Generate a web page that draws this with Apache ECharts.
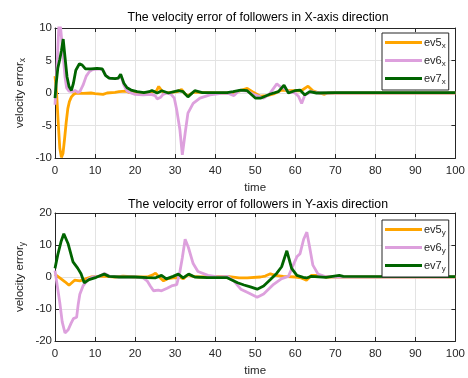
<!DOCTYPE html>
<html>
<head>
<meta charset="utf-8">
<script src="https://cdn.jsdelivr.net/npm/echarts@6/dist/echarts.min.js"></script>
<style>
  html, body { margin: 0; padding: 0; background: #fff; }
  #chart { width: 468px; height: 378px; }
</style>
</head>
<body>
<div id="chart"></div>
<script>
// x-axis ticks
var timeTicks = [0, 10, 20, 30, 40, 50, 60, 70, 80, 90, 100]

// X direction errors, [time, value]
var ev5x = [[0,2.6],[0.4,0],[0.8,-4.5],[1.2,-8.5],[1.6,-9.9],[2.0,-9.3],[2.4,-7],[2.8,-4.5],[3.2,-2.4],[3.6,-1.3],[4.1,-0.6],[4.7,-0.2],[5.3,0],[7,-0.05],[9,0],[10,-0.1],[12,-0.2],[13,0],[15,0.1],[16,0.2],[17.6,0.3],[18.5,0.1],[20,0],[22,0],[24,0.1],[25.3,0.3],[25.9,1.0],[26.5,0.5],[27.1,0],[29,0.1],[30.5,0.2],[31.6,0.55],[32.4,-0.1],[33.2,-0.4],[34.5,0.1],[36,0.1],[40,0],[43,0],[45,0.1],[48,0.7],[49.3,0.2],[51.3,-0.5],[53,-0.4],[54.6,-0.15],[56.6,0.45],[58,0.35],[59.5,0.35],[61.5,0.35],[63.2,1.05],[64.4,0.35],[66,0],[67.3,-0.2],[68.1,0],[70,0],[100,0]]
var ev6x = [[0,-1.8],[0.5,4],[1.0,10.8],[1.4,10],[2,6],[2.5,2.5],[2.9,0.8],[3.5,0.3],[4.5,0.2],[5,0.4],[5.7,0.1],[6.2,0.2],[7,1.2],[7.8,2.6],[8.6,3.3],[9.4,3.6],[11,3.7],[12,3.5],[12.8,2.6],[14,2.2],[16,2.3],[16.5,2.6],[17.2,1.2],[18,0.3],[19,0],[20,-0.2],[22,-0.3],[24,-0.2],[25,-0.4],[25.5,-0.9],[26.3,-0.7],[27,-0.2],[28,0],[29,-0.2],[29.8,-0.8],[30.4,-2.6],[31.2,-5.7],[31.8,-9.5],[32.5,-6.2],[33.2,-3.1],[34.5,-1.6],[36.2,-0.8],[38.7,-0.3],[42,0],[43.5,-0.1],[44.7,-0.4],[46,0.4],[48,0.3],[49.5,-0.2],[51,-0.5],[52.1,-0.8],[53.5,-0.2],[55.4,1.4],[56.2,1.0],[57.5,0.6],[58.3,0.2],[59.9,0],[60.8,-0.5],[61.6,-1.6],[62.4,-0.3],[64,0.2],[66,0],[100,0]]
var ev7x = [[0,-0.8],[0.3,1.5],[0.7,3.8],[1.2,5.2],[1.6,6.5],[2.05,8.3],[2.5,5.5],[3,2.5],[3.5,1],[4.1,0.4],[4.6,1.5],[5.2,3.5],[6.1,4.5],[6.8,4.3],[7.6,3.7],[9,3.7],[10.5,3.8],[11.8,3.7],[12.6,2.7],[13.5,2.3],[15,2.2],[15.8,2.3],[16.4,2.9],[17.2,1.5],[18,0.8],[19,0.45],[20.5,0.2],[22.2,0.05],[23.5,0.2],[24.2,0.4],[25.5,0],[26.7,0.35],[28.3,0],[30.8,0.35],[32,0.2],[33.2,-0.6],[34.9,0.35],[36.8,0.05],[43,0.05],[44.5,0.2],[46.4,0.45],[48,0.35],[50.1,-0.8],[51.3,-0.8],[53.8,-0.15],[55.8,0.2],[57.2,1.2],[58.3,0],[59.9,0.35],[61.2,0.45],[62.4,-0.3],[63.6,0.2],[65.3,0],[70,0.05],[100,0.05]]

// Y direction errors
var ev5y = [[0,0.8],[1.2,-0.3],[2.5,-1.5],[3.5,-2.6],[4.2,-1.8],[4.9,-1.0],[6.2,-1.2],[7.8,-0.5],[9,0],[12,0.3],[15,0],[17,0.3],[20,0],[23,0],[24.3,0.6],[25.1,1.2],[26,0],[27.1,-1.2],[28.3,-0.5],[29.5,-0.3],[30.4,-0.3],[31.2,0],[32,-0.6],[33.2,0.7],[34.5,0.2],[36,0],[43,0.2],[46,-0.3],[48,-0.3],[51.3,0],[52.5,0.3],[53.8,1.0],[55,0.5],[57,0.2],[60,0],[61.5,-0.3],[62.8,-1.0],[64,0.5],[66,0.5],[67.5,0],[100,0]]
var ev6y = [[0,2],[0.6,-3],[1.2,-8],[1.8,-14],[2.5,-17.5],[3.3,-16.5],[4,-14.5],[4.6,-13],[5.4,-12.6],[5.8,-8.5],[6.2,-5.4],[7,-2.8],[8.2,-0.8],[9.4,0],[11,0.2],[12.4,1.1],[13.5,0.3],[16,0],[20,0],[22,-0.3],[23,-1.2],[23.8,-2.8],[24.6,-4.3],[25.8,-4.1],[26.6,-4.3],[28,-3.5],[29.1,-2.8],[30.4,-2.4],[31.2,1.7],[31.8,6],[32.5,11.8],[33.3,9.3],[34.5,4.2],[35.7,1.7],[38.2,0.5],[40.7,0],[43.1,0.2],[44.7,-1.3],[46.4,-3.8],[48,-4.8],[50.5,-6.3],[52.1,-5.3],[54.6,-2.3],[56.6,-0.5],[58.3,0.2],[59.5,3.7],[60.4,6.3],[61.2,7.3],[62.1,11.8],[62.9,14],[63.6,9.3],[64.4,3.7],[65.7,0.9],[67.3,0.2],[70,0],[100,0]]
var ev7y = [[0,2.7],[0.7,7],[1.5,11],[2.2,13.5],[3.3,10.3],[4.5,4.7],[5.7,2.7],[6.5,1],[7.3,-1.8],[8.5,-0.8],[10.3,-0.1],[12.3,0.9],[13.5,0.2],[16,0],[20,0],[23,-0.2],[25,-0.3],[26.6,0.5],[27.8,-0.6],[29.5,0.2],[30.8,0.9],[32,-0.3],[33.4,0.9],[34.9,0],[38,-0.2],[43,-0.2],[45.6,-1.8],[47.2,-2.5],[48.8,-3.1],[50.5,-3.8],[52.1,-2.8],[53.8,-0.8],[55.4,1.2],[56.6,3.2],[57.9,8.2],[59.1,2.7],[60.4,0.5],[62,-0.1],[62.8,-0.3],[64,0.2],[67.7,-0.1],[71,0.5],[72,0.2],[100,0.1]]

var colors = ['#FFA500', '#DDA0DD', '#006400']
var font = 'Liberation Sans, Arial, sans-serif'
var ink = '#262626'

function xAx(gi, top) {
  return {
    type: 'value', gridIndex: gi, min: 0, max: 100, interval: 10,
    position: top ? 'top' : 'bottom',
    name: top ? '' : 'time', nameLocation: 'middle', nameGap: 24,
    nameTextStyle: { fontFamily: font, fontSize: 11.5, color: ink },
    axisLine: { show: true, onZero: false, lineStyle: { color: ink, width: 1 } },
    axisTick: { show: true, inside: true, length: 4, lineStyle: { color: ink } },
    axisLabel: { show: !top, fontFamily: font, fontSize: 11.5, color: ink, margin: 7 },
    splitLine: { show: !top, lineStyle: { color: '#e3e3e3', width: 1 } }
  }
}
function yAx(gi, right, lim, step, sub) {
  return {
    type: 'value', gridIndex: gi, min: -lim, max: lim, interval: step,
    position: right ? 'right' : 'left',
    name: right ? '' : '{a|velocity error}{s|' + sub + '}',
    nameLocation: 'middle', nameGap: 28, nameRotate: 90, nameMoveOverlap: false,
    nameTextStyle: { rich: {
      a: { fontFamily: font, fontSize: 11.5, color: ink },
      s: { fontFamily: font, fontSize: 8.5, color: ink, verticalAlign: 'bottom', padding: [6, 0, 0, 0] }
    } },
    axisLine: { show: true, onZero: false, lineStyle: { color: ink, width: 1 } },
    axisTick: { show: true, inside: true, length: 4, lineStyle: { color: ink } },
    axisLabel: { show: !right, fontFamily: font, fontSize: 11.5, color: ink, margin: 3 },
    splitLine: { show: !right, lineStyle: { color: '#e3e3e3', width: 1 } }
  }
}
function line(name, data, k, gi) {
  return {
    name: name, type: 'line', data: data, xAxisIndex: gi * 2, yAxisIndex: gi * 2,
    symbol: 'none', clip: true, animation: false,
    lineStyle: { color: colors[k], width: 2.8 }, itemStyle: { color: colors[k] }
  }
}
function leg(top, names) {
  return {
    orient: 'vertical', left: 382, top: top,
    data: names, icon: 'rect', itemWidth: 37, itemHeight: 3, itemGap: 5,
    padding: [4, 3, 4, 3],
    backgroundColor: '#fff', borderColor: ink, borderWidth: 1, borderRadius: 0,
    formatter: function (n) { var p = n.split('_'); return '{a|' + p[0] + '}{s|' + p[1] + '}' },
    textStyle: { padding: [0, 0, 0, -3], rich: {
      a: { fontFamily: font, fontSize: 11, color: ink },
      s: { fontFamily: font, fontSize: 8, color: ink, verticalAlign: 'bottom', padding: [7, 0, 0, 0] }
    } }
  }
}

var chart = echarts.init(document.getElementById('chart'))
var option = {
  animation: false,
  title: [
    { text: 'The velocity error of followers in X-axis direction', left: 258, top: 12, padding: 0, textAlign: 'center',
      textStyle: { fontFamily: font, fontSize: 12.3, fontWeight: 'normal', color: '#000' } },
    { text: 'The velocity error of followers in Y-axis direction', left: 258, top: 199, padding: 0, textAlign: 'center',
      textStyle: { fontFamily: font, fontSize: 12.3, fontWeight: 'normal', color: '#000' } }
  ],
  grid: [
    { left: 55, top: 28, width: 406, height: 130 },
    { left: 55, top: 213, width: 406, height: 132 }
  ],
  xAxis: [xAx(0, false), xAx(0, true), xAx(1, false), xAx(1, true)],
  yAxis: [yAx(0, false, 10, 5, 'x'), yAx(0, true, 10, 5, 'x'), yAx(1, false, 20, 10, 'y'), yAx(1, true, 20, 10, 'y')],
  legend: [leg(33, ['ev5_x', 'ev6_x', 'ev7_x']), leg(220, ['ev5_y', 'ev6_y', 'ev7_y'])],
  series: [
    line('ev5_x', ev5x, 0, 0), line('ev6_x', ev6x, 1, 0), line('ev7_x', ev7x, 2, 0),
    line('ev5_y', ev5y, 0, 1), line('ev6_y', ev6y, 1, 1), line('ev7_y', ev7y, 2, 1)
  ]
}
chart.setOption(option)
window.addEventListener('resize', function () { chart.resize() })
</script>
</body>
</html>
